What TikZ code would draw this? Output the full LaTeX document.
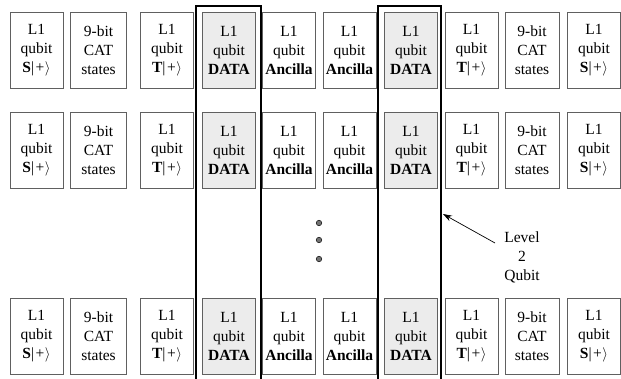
\documentclass[tikz,border=0pt]{standalone}
\usepackage{fontspec}
\setmainfont{LiberationSerif}[Extension=.ttf, UprightFont=*-Regular, BoldFont=*-Bold, ItalicFont=*-Italic, BoldItalicFont=*-BoldItalic]
\usetikzlibrary{arrows.meta}
\tikzset{
  qbox/.style={draw=gray!75!black, line width=0.8pt, minimum height=76pt, minimum width=53pt,
    inner sep=0pt, align=center, font=\fontsize{15.5}{19}\selectfont},
  databox/.style={qbox, fill=gray!15},
  frameline/.style={draw=black, line width=1.8pt},
  dotmark/.style={circle, fill=gray!90!black, draw=gray!25!black, line width=0.6pt, inner sep=0pt, minimum size=5.5pt},
  lbl/.style={align=center, font=\fontsize{15.5}{19}\selectfont, inner sep=0pt},
  pointer/.style={draw=black, line width=0.7pt, -{Stealth[length=9pt,width=6pt]}}
}
\newcommand{\Sket}{\textbf{S}|\kern1.5pt+\kern0.5pt$\rangle$}
\newcommand{\Tket}{\textbf{T}|\kern1.5pt+\kern0.5pt$\rangle$}
\begin{document}
\begin{tikzpicture}[x=1pt,y=-1pt]
\useasboundingbox (0,0) rectangle (621,379);
\foreach \r/\y in {1/50,2/150,3/336} {
  \node[qbox] (s\r a) at (36.5,\y) {L1\\qubit\\\Sket};
  \node[qbox, minimum width=56pt] (c\r a) at (98.5,\y) {9-bit\\CAT\\states};
  \node[qbox] (t\r a) at (167,\y) {L1\\qubit\\\Tket};
  \node[databox] (d\r a) at (229,\y) {L1\\qubit\\\textbf{DATA}};
  \node[qbox] (a\r a) at (289,\y) {L1\\qubit\\\textbf{Ancilla}};
  \node[qbox] (a\r b) at (349.5,\y) {L1\\qubit\\\textbf{Ancilla}};
  \node[databox] (d\r b) at (411,\y) {L1\\qubit\\\textbf{DATA}};
  \node[qbox] (t\r b) at (471.5,\y) {L1\\qubit\\\Tket};
  \node[qbox, minimum width=54pt] (c\r b) at (532,\y) {9-bit\\CAT\\states};
  \node[qbox] (s\r b) at (594,\y) {L1\\qubit\\\Sket};
}
% level-2 frames
\draw[frameline] (196,390) -- (196,6) -- (261,6) -- (261,390);
\draw[frameline] (378,390) -- (378,6) -- (441,6) -- (441,390);
% dots
\node[dotmark] (dot1) at (319,223) {};
\node[dotmark] (dot2) at (319,240) {};
\node[dotmark] (dot3) at (319,259) {};
% label and arrow
\node[lbl] (lvl) at (522,257) {Level\\2\\Qubit};
\coordinate (astart) at (495,243);
\coordinate (atip) at (443,214);
\draw[pointer] (astart) -- (atip);
\end{tikzpicture}
\end{document}
